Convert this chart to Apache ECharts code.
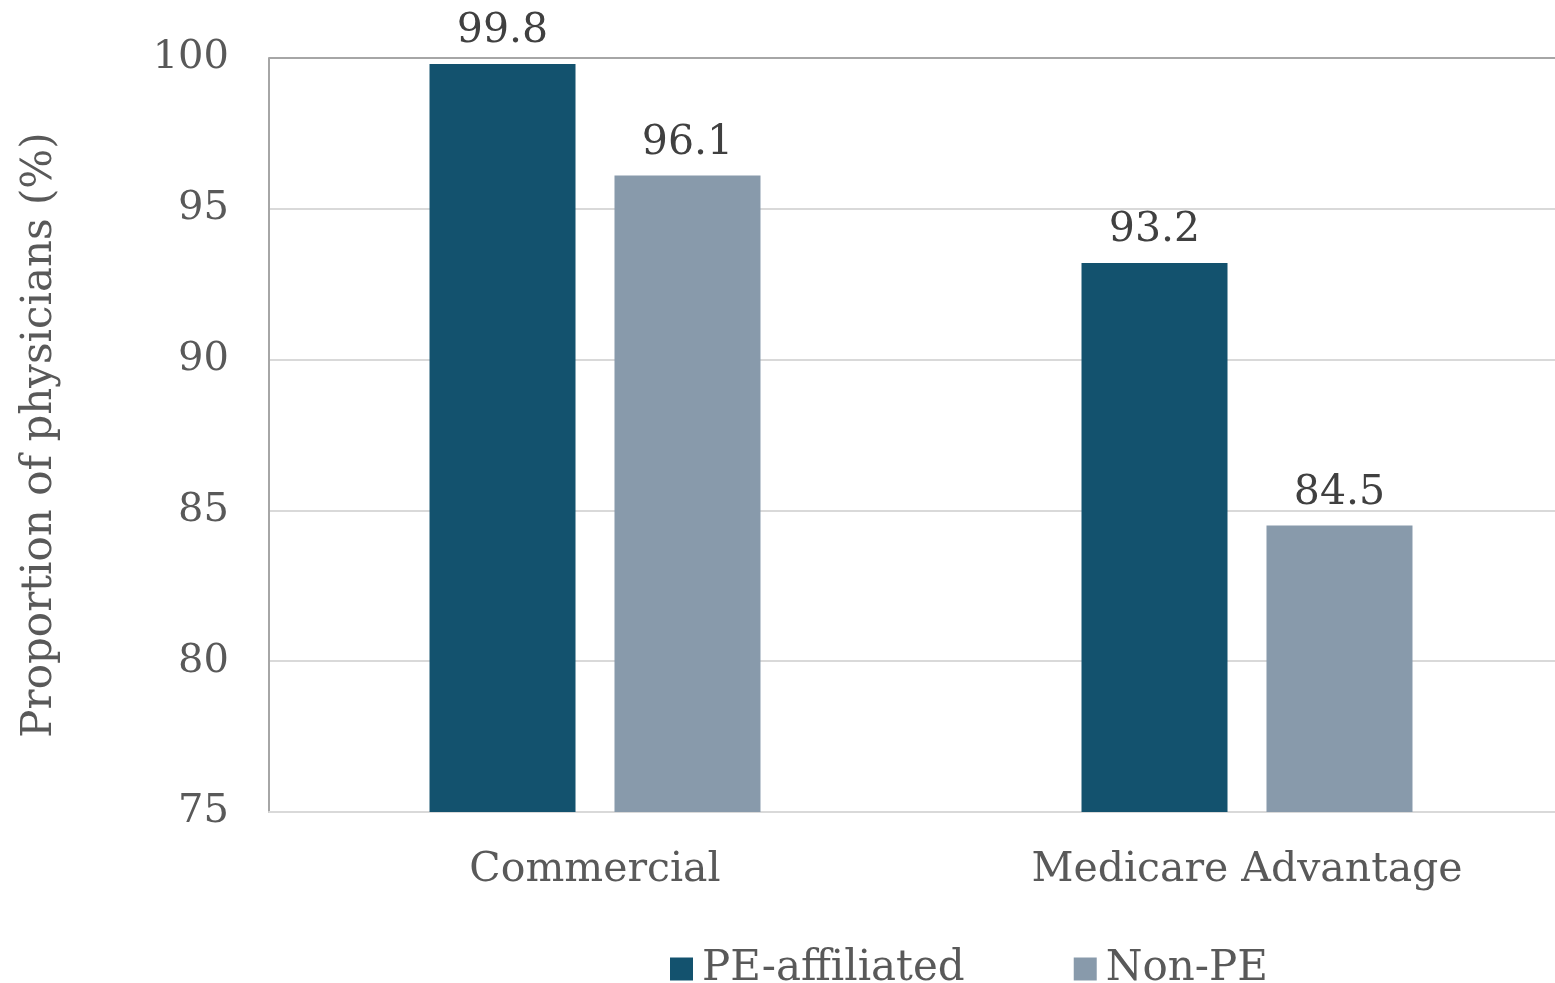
<!DOCTYPE html>
<html>
<head>
<meta charset="utf-8">
<script src="https://cdn.jsdelivr.net/npm/echarts@6/dist/echarts.min.js"></script>
<style>
  html, body { margin: 0; padding: 0; background: #ffffff; }
  #chart { width: 1555px; height: 983px; }
</style>
</head>
<body>
<div id="chart"></div>
<script>
// Share of physicians by payer type, PE-affiliated vs. non-PE practices
const categories = ['Commercial', 'Medicare Advantage'];
const seriesNames = ['PE-affiliated', 'Non-PE'];
const peAffiliated = [99.8, 93.2];
const nonPE = [96.1, 84.5];
const yTicks = { min: 75, max: 100, interval: 5 };

const FONT = 'DejaVu Serif';
const TEXT = '#595959';

const chart = echarts.init(document.getElementById('chart'));

const labelStyle = {
  show: true,
  position: 'top',
  distance: 12,
  color: '#404040',
  fontFamily: FONT,
  fontSize: 41,
  formatter: p => p.value.toFixed(1)
};

chart.setOption({
  animation: false,
  textStyle: { fontFamily: FONT },
  grid: { left: 269, top: 58, right: -18, height: 754, containLabel: false, outerBoundsMode: 'none' },
  legend: {
    data: seriesNames,
    top: 943,
    left: 665,
    itemWidth: 23,
    itemHeight: 23,
    itemGap: 109,
    icon: 'rect',
    textStyle: { color: TEXT, fontFamily: FONT, fontSize: 42, padding: [0, 0, 0, 4] }
  },
  xAxis: {
    type: 'category',
    data: categories,
    axisLine: { show: true, lineStyle: { color: '#d9d9d9', width: 2 } },
    axisTick: { show: false },
    axisLabel: { color: TEXT, fontFamily: FONT, fontSize: 41, margin: 38 }
  },
  yAxis: {
    type: 'value',
    min: yTicks.min,
    max: yTicks.max,
    interval: yTicks.interval,
    name: 'Proportion of physicians (%)',
    nameLocation: 'middle',
    nameGap: 208,
    nameRotate: 90,
    nameTextStyle: { color: TEXT, fontFamily: FONT, fontSize: 42 },
    axisLine: { show: true, lineStyle: { color: '#a6a6a6', width: 2 } },
    axisTick: { show: false },
    axisLabel: { color: TEXT, fontFamily: FONT, fontSize: 40, margin: 40 },
    splitLine: { lineStyle: { color: '#d9d9d9', width: 2 } }
  },
  series: [
    {
      name: seriesNames[0],
      type: 'bar',
      data: peAffiliated,
      barWidth: 146,
      barGap: '26.7%',
      itemStyle: { color: '#13526e' },
      label: labelStyle,
      markLine: {
        silent: true,
        symbol: 'none',
        label: { show: false },
        lineStyle: { color: '#a6a6a6', width: 2, type: 'solid' },
        data: [{ yAxis: yTicks.max }]
      }
    },
    {
      name: seriesNames[1],
      type: 'bar',
      data: nonPE,
      barWidth: 146,
      itemStyle: { color: '#889aab' },
      label: labelStyle
    }
  ]
});
</script>
</body>
</html>
